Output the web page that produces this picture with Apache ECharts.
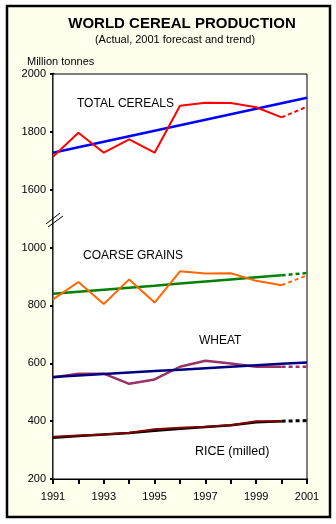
<!DOCTYPE html>
<html><head><meta charset="utf-8">
<script src="https://cdn.jsdelivr.net/npm/echarts@6/dist/echarts.min.js"></script>
<style>html,body{margin:0;padding:0;background:#fff;}#c{width:336px;height:524px;}</style>
</head><body><div id="c"></div>
<script>
const years = [1991,1992,1993,1994,1995,1996,1997,1998,1999,2000,2001];
const yTicks = [200,400,600,800,1000,1600,1800,2000];
// actual (1991-2000) + 2001 forecast
const totalActual = [1714,1797,1728,1774,1728,1890,1901,1900,1885,1850,1887];
const totalTrend  = [1728,1747,1766,1785,1804,1823,1842,1861,1880,1899,1918];
const coarseActual = [821,881,805,890,810,918,910,911,885,870,904];
const coarseTrend  = [840,847,854,861,868,876,883,890,897,904,912];
const wheatActual = [551,564,564,529,544,588,609,599,588,588,588];
const wheatTrend  = [553,558,563,568,573,578,583,588,593,598,603];
const riceActual = [346,350,354,360,372,377,381,386,400,400,401];
const riceTrend  = [343,349,354,359,367,374,380,386,396,400,402];

// broken axis: values >= 1600 are shifted down by 400 so 1600 sits one interval above 1000
const yv = v => v >= 1400 ? v - 400 : v;
const rv = v => v > 1000 ? v + 400 : v;
const pts = (arr, a, b) => years.slice(a, b).map((y, i) => [y, yv(arr[a + i])]);

function line(name, arr, color, width, dashed, a, b, z) {
  return {
    type: 'line', name: name, data: pts(arr, a, b), symbol: 'none', z: z,
    lineStyle: { color: color, width: width, type: dashed ? [4, 3] : 'solid' },
    silent: true, animation: false
  };
}

const series = [
  line('Total trend', totalTrend, '#0000ff', 2.5, false, 0, 11, 2),
  line('Total', totalActual, '#ff0000', 2, false, 0, 10, 3),
  line('Total f', totalActual, '#ff0000', 2, true, 9, 11, 3),
  line('Coarse trend', coarseTrend, '#008000', 2.5, false, 0, 10, 2),
  line('Coarse trend f', coarseTrend, '#008000', 2.5, true, 9, 11, 2),
  line('Coarse', coarseActual, '#ff6600', 2, false, 0, 10, 3),
  line('Coarse f', coarseActual, '#ff6600', 2, true, 9, 11, 3),
  line('Wheat', wheatActual, '#993366', 2.5, false, 0, 10, 2),
  line('Wheat f', wheatActual, '#993366', 2.5, true, 9, 11, 2),
  line('Wheat trend', wheatTrend, '#000080', 2.5, false, 0, 11, 3),
  line('Rice trend', riceTrend, '#000000', 2.5, false, 0, 10, 2),
  line('Rice trend f', riceTrend, '#000000', 3, true, 9, 11, 2),
  line('Rice', riceActual, '#800000', 2, false, 0, 10, 3)
];

const font = '"Liberation Sans", Arial, sans-serif';
const txt = (t, x, y, size, opts) => Object.assign({
  type: 'text', x: x, y: y, z: 100,
  style: { text: t, font: size + 'px ' + font, fill: '#000', textVerticalAlign: 'middle' }
}, opts || {});

const chart = echarts.init(document.getElementById('c'), null, { renderer: 'canvas' });
chart.setOption({
  backgroundColor: '#ffffff',
  animation: false,
  grid: { left: 53, top: 74, right: 29, bottom: 45, show: true, backgroundColor: '#ffffff', borderColor: '#000', borderWidth: 1, z: 1 },
  xAxis: {
    type: 'value', min: years[0], max: years[years.length - 1], interval: 1,
    axisLine: { lineStyle: { color: '#000', width: 2 } },
    axisTick: { show: true, length: 5, lineStyle: { color: '#000', width: 2 } },
    axisLabel: { color: '#000', fontSize: 11, fontFamily: font, margin: 12,
      formatter: v => (v % 2 === 1 ? String(v) : '') },
    splitLine: { show: false }
  },
  yAxis: {
    type: 'value', min: yv(yTicks[0]), max: yv(yTicks[yTicks.length - 1]), interval: 200,
    axisLine: { show: true, lineStyle: { color: '#000', width: 2.5 } },
    axisTick: { show: true, length: 3, lineStyle: { color: '#000', width: 2 } },
    axisLabel: { color: '#000', fontSize: 11, fontFamily: font, margin: 7,
      formatter: v => String(rv(v)) },
    splitLine: { show: true, lineStyle: { color: '#808080', width: 1 } }
  },
  series: series,
  graphic: [
    { type: 'rect', z: -10, shape: { x: 7, y: 6, width: 323, height: 511 },
      style: { fill: '#ffffee', stroke: '#000', lineWidth: 2.5 } },
    txt('WORLD CEREAL PRODUCTION', 182, 24, 15, { style: { text: 'WORLD CEREAL PRODUCTION', font: 'bold 15px ' + font, fill: '#000', textAlign: 'center', textVerticalAlign: 'middle' } }),
    txt('(Actual, 2001 forecast and trend)', 175, 40, 11, { style: { text: '(Actual, 2001 forecast and trend)', font: '11px ' + font, fill: '#000', textAlign: 'center', textVerticalAlign: 'middle' } }),
    txt('Million tonnes', 27, 62, 11),
    txt('TOTAL CEREALS', 77, 104, 12),
    txt('COARSE GRAINS', 83, 256, 12),
    txt('WHEAT', 199, 341, 12),
    txt('RICE (milled)', 195, 452, 12.5),
    { type: 'line', z: 100, shape: { x1: 46, y1: 224, x2: 60, y2: 213 }, style: { stroke: '#000', lineWidth: 1 } },
    { type: 'line', z: 100, shape: { x1: 48, y1: 227, x2: 63, y2: 216 }, style: { stroke: '#000', lineWidth: 1 } }
  ]
});
</script></body></html>
